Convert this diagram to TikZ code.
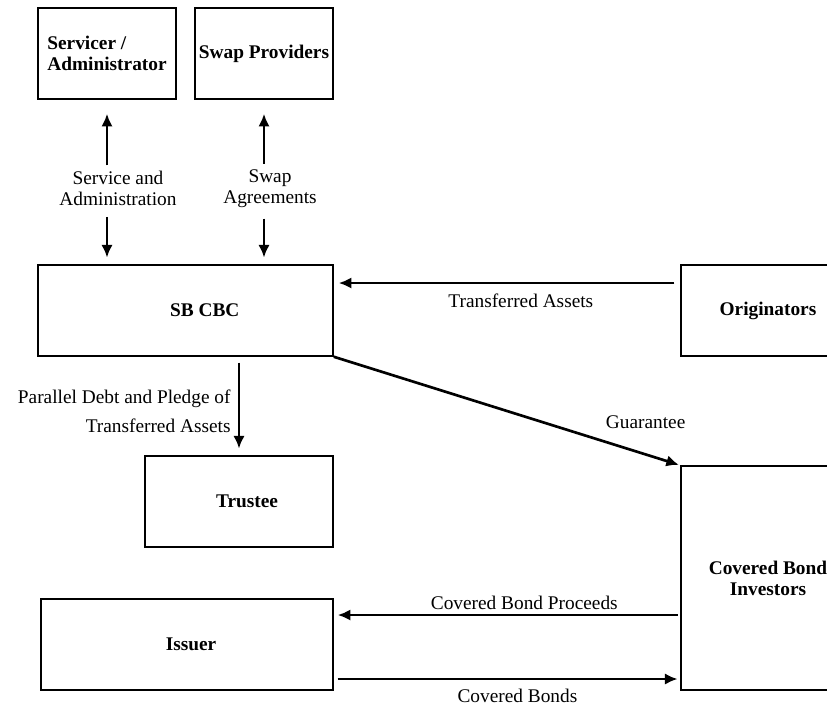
\documentclass[tikz,border=0pt]{standalone}
\usepackage{fontspec}
\setmainfont{Liberation Serif}
\usetikzlibrary{arrows.meta}

\begin{document}
\begin{tikzpicture}[x=0.75pt,y=-0.75pt,->,>={Latex[length=9.5pt,width=8.5pt]},line width=2pt,font=\fontsize{14.5}{15.75}\selectfont,
                box node/.style={draw,line width=1.1pt,inner xsep=2pt,minimum height=68.25pt,align=center,font=\fontsize{14.5}{15.75}\selectfont\bfseries},
                flow label/.style={align=center}]
                \useasboundingbox (0,0) rectangle (827,708);

                \node[box node,minimum width=103.5pt,align=left] (serv) at (107,53.5) {Servicer /\\Administrator};
                \node[box node,minimum width=103.5pt] (swap) at (264,53.5) {Swap Providers};
                \node[box node,minimum width=221.25pt] (sbcbc) at (185.5,310.5) {\hspace*{29pt}SB CBC};
                \node[box node,minimum width=130.5pt] (orig) at (768,310.5) {Originators};
                \node[box node,minimum width=141pt] (trustee) at (239,501.5) {\hspace*{12pt}Trustee};
                \node[box node,minimum width=219pt] (issuer) at (187,644.5) {\hspace*{6pt}Issuer};
                \node[box node,minimum width=130.5pt,minimum height=168pt] (investors) at (768,578) {Covered Bond\\Investors};

                \node[flow label] (servlabel) at (118,188.5) {Service and\\Administration};
                \node[flow label] (swaplabel) at (270,188.5) {Swap\\Agreements};

                \path
                    (servlabel.north -| serv.south) edge [shorten >=10.5pt] (serv.south)
                    (servlabel.south -| serv.south) edge [shorten <=4pt,shorten >=5pt] (serv.south |- sbcbc.north)
                    (swaplabel.north -| swap.south) edge [shorten >=10.5pt] (swap.south)
                    (swaplabel.south -| swap.south) edge [shorten <=4pt,shorten >=5pt] (swap.south |- sbcbc.north)
                    ([yshift=20.625pt]orig.west) edge [shorten <=4.5pt,shorten >=3.75pt] node[below=4pt,pos=0.46] {Transferred Assets} ([yshift=20.625pt]sbcbc.east)
                    (sbcbc.south east) edge [shorten >=1pt] node[pos=0.9,yshift=24pt] {Guarantee} (investors.north west)
                    (sbcbc.south -| trustee.north) edge [shorten <=4.5pt,shorten >=5pt] node[left,pos=0.55,align=right,xshift=-2pt] {Parallel Debt and Pledge of\\[6pt]Transferred Assets} (trustee.north)
                    ([yshift=-27.75pt]investors.west) edge [shorten <=2pt,shorten >=3pt] node[above,pos=0.45] {Covered Bond Proceeds} ([yshift=22.125pt]issuer.east)
                    ([yshift=-25.875pt]issuer.east) edge [shorten <=3pt,shorten >=2pt] node[below=3pt,pos=0.53] {Covered Bonds} ([yshift=-75.75pt]investors.west)
                    ;
\end{tikzpicture}
\end{document}
